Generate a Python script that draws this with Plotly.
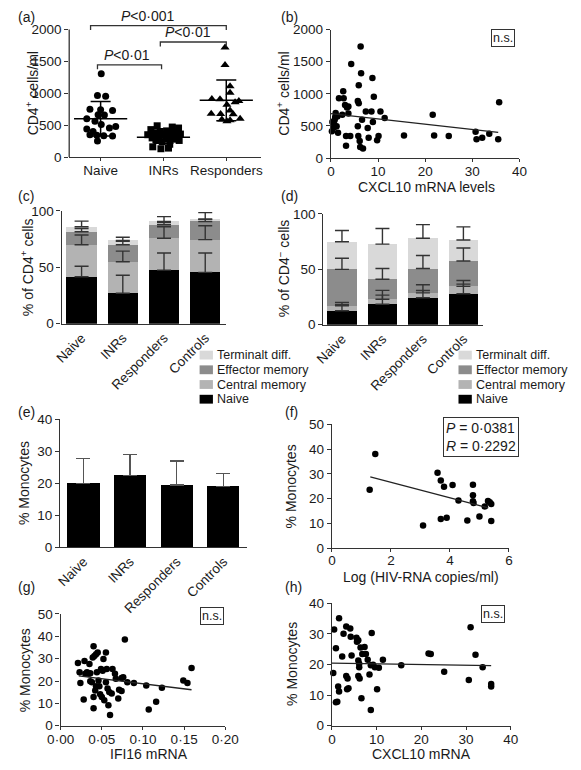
import plotly.graph_objects as go

W, H = 581, 770
FONT = "Liberation Sans, Arial, Helvetica, sans-serif"
TXT = "#1a1a1a"
AXC = "#333333"

# ---------------- data ----------------
# (a) CD4+ counts
cat_a = ["Naive", "INRs", "Responders"]
a_naive = [1305, 965, 955, 750, 740, 730, 665, 660, 600, 560, 510, 480, 455, 440, 400, 350, 340, 335, 330, 250]
a_naive_jit = [0.01, -0.05, 0.08, -0.17, 0.0, 0.19, -0.04, 0.06, -0.22, -0.09, 0.01, 0.24, 0.14, -0.22, -0.12, -0.17, -0.06, 0.05, 0.19, -0.05]
a_inr = [490, 470, 455, 430, 410, 400, 390, 380, 370, 360, 350, 340, 330, 320, 310, 300, 290, 280, 270, 260, 240, 200, 160, 140, 130]
a_inr_jit = [-0.1, 0.14, 0.24, -0.2, 0.05, -0.05, 0.18, -0.15, 0.08, 0.27, -0.25, 0.0, 0.12, -0.08, 0.2, -0.18, 0.06, 0.15, -0.12, 0.25, -0.02, 0.1, -0.17, 0.08, -0.04]
a_resp = [1720, 1445, 1110, 1010, 910, 905, 880, 860, 820, 730, 680, 675, 670, 600, 590, 575, 560]
a_resp_jit = [-0.02, -0.02, 0.06, 0.06, -0.23, -0.1, 0.2, 0.14, 0.01, 0.06, -0.24, -0.09, 0.11, 0.22, -0.07, 0.06, 0.01]
a_mean = [600, 310, 890]
a_sd = [272, 95, 320]
a_brk_x0 = [-0.05, -0.16, 0.95]
a_brk_x1 = [0.97, 2.0, 2.0]
a_brk_y = [1446, 2062, 1805]
a_brk_leg = 70
a_brk_tx = [0.42, 0.75, 1.39]
a_brk_text = ["<i>P</i>&lt;0·01", "<i>P</i>&lt;0·001", "<i>P</i>&lt;0·01"]

# (b) CD4+ vs CXCL10
b_x = [0.2, 0.7, 0.8, 1.0, 1.2, 1.35, 1.5, 1.7, 2.4, 2.6, 2.7, 3.0, 3.2, 3.2, 3.4, 3.7, 3.7, 4.1, 4.3, 5.7,
       5.7, 5.9, 5.9, 5.8, 6.1, 6.2, 6.3, 6.4, 6.6, 6.8, 7.4, 7.8, 8.0, 8.6, 8.8, 8.9, 9.1, 9.8, 10.1, 10.5,
       11.4, 15.5, 21.6, 21.9, 25.0, 30.7, 30.9, 32.1, 33.6, 35.7, 35.5, 0.3, 0.6, 0.9]
b_y = [418, 520, 597, 699, 495, 648, 393, 929, 673, 1041, 929, 827, 342, 189, 786, 801, 694, 342, 1464, 495,
       888, 852, 1133, 342, 265, 173, 1735, 1321, 597, 148, 724, 469, 316, 724, 1245, 561, 954, 276, 342, 724,
       622, 352, 673, 352, 342, 408, 291, 316, 378, 867, 291, 560, 470, 640]
b_fit_x = [0, 35.5]
b_fit_y = [690, 400]

# (c)/(d) subsets
cat_bar = ["Naive", "INRs", "Responders", "Controls"]
subset_names = ["Naive", "Central memory", "Effector memory", "Terminalt diff."]
subset_colors = ["#000000", "#b3b3b3", "#8c8c8c", "#d9d9d9"]
c_naive = [41.7, 27.0, 47.5, 45.5]
c_central = [28.3, 28.0, 28.3, 29.1]
c_effector = [11.6, 15.0, 12.0, 16.1]
c_terminal = [4.4, 3.8, 2.9, 2.0]
c_naive_err = [9.3, 16.0, 15.2, 17.2]
c_central_err = [8.7, 9.4, 10.2, 12.3]
c_effector_err = [2.9, 3.0, 2.0, 2.0]
c_terminal_err = [5.0, 2.9, 4.3, 5.8]
d_naive = [12.6, 18.5, 24.3, 27.9]
d_central = [4.4, 4.4, 4.4, 6.7]
d_effector = [32.9, 18.1, 22.0, 22.9]
d_terminal = [24.9, 31.7, 27.3, 19.0]
d_naive_err = [7.4, 8.2, 6.5, 12.0]
d_central_err = [1.0, 8.1, 7.3, 2.0]
d_effector_err = [10.1, 9.7, 11.8, 11.7]
d_terminal_err = [10.2, 14.1, 12.3, 11.8]

# (e) monocytes
e_mean = [20.0, 22.5, 19.5, 19.0]
e_sd = [7.8, 6.5, 7.5, 4.0]

# (f) monocytes vs log HIV RNA
f_x = [1.47, 1.28, 3.09, 3.58, 3.69, 3.8, 3.69, 3.89, 4.09, 4.29, 4.59, 4.78, 4.78, 4.78, 4.8, 5.0, 5.18, 5.29, 5.4, 5.35, 5.4]
f_y = [38, 23.6, 9.2, 30.4, 27.3, 24.8, 11.8, 12.3, 25.5, 19.2, 11.2, 25.6, 21.4, 18.9, 18.2, 12.8, 16.8, 19.0, 17.8, 18.5, 11.0]
f_fit_x = [1.3, 5.3]
f_fit_y = [28.8, 16.3]

# (g) monocytes vs IFI16
g_x = [0.021, 0.023, 0.024, 0.028, 0.029, 0.030, 0.032, 0.035, 0.034, 0.036, 0.036, 0.038, 0.039, 0.040, 0.040,
       0.040, 0.041, 0.042, 0.043, 0.043, 0.044, 0.045, 0.046, 0.047, 0.048, 0.049, 0.050, 0.051, 0.052, 0.053,
       0.055, 0.055, 0.056, 0.057, 0.058, 0.059, 0.060, 0.062, 0.063, 0.066, 0.067, 0.070, 0.071, 0.074, 0.074,
       0.076, 0.078, 0.081, 0.089, 0.104, 0.107, 0.116, 0.123, 0.149, 0.154, 0.159]
g_y = [28, 23.9, 19.1, 11.7, 29, 23.2, 23.9, 27.6, 23.2, 19.9, 23.5, 19.5, 30.5, 35.6, 7.8,
       12.9, 31.2, 15.8, 32, 17.6, 23.9, 32.7, 20.2, 17.6, 14.1, 25.4, 12.9, 24.6, 29.8, 11.4,
       19.5, 32.7, 25.4, 16.6, 9.2, 15.1, 4.8, 14.4, 25.4, 23.2, 21, 12.2, 16.1, 21.4, 15.5,
       21.7, 38.6, 19.5, 19.1, 18, 7.3, 10.7, 17, 20.2, 19.1, 25.8]
g_fit_x = [0.022, 0.159]
g_fit_y = [22.3, 16.1]
g_tickvals = [0, 0.05, 0.10, 0.15, 0.20]
g_ticktext = ["0·00", "0·05", "0·10", "0·15", "0·20"]

# (h) monocytes vs CXCL10
h_x = [0.3, 0.5, 0.9, 0.9, 1.2, 1.4, 1.6, 1.6, 2.3, 2.6, 3.2, 3.2, 3.4, 3.5, 3.7, 4.1, 4.2, 4.4, 5.5, 5.6,
       5.9, 5.9, 5.9, 6.1, 6.1, 6.2, 6.4, 6.6, 6.8, 7.3, 7.6, 8.0, 8.4, 8.7, 8.7, 8.9, 9.2, 9.6, 10.1, 10.5,
       11.4, 15.5, 21.6, 22.1, 25.1, 30.6, 31.0, 32.1, 33.7, 35.6, 35.6]
h_y = [17.2, 31.4, 25.3, 7.7, 7.8, 12.8, 11.2, 35.1, 22.6, 30, 32.4, 16.2, 11.9, 15.4, 12.2, 31.7, 29, 22.9, 28.7, 27.4,
       27.9, 21.3, 16.2, 20.2, 19.1, 15.4, 25.5, 9, 23.4, 25.7, 23.4, 21.5, 16.7, 19.7, 5.1, 30.3, 19.9, 19.1, 11.9, 18.9,
       21.5, 19.7, 23.6, 23.4, 17.6, 14.9, 32.1, 23.2, 19.1, 13.6, 12.8]
h_fit_x = [0, 35.6]
h_fit_y = [20.4, 19.6]

# ---------------- layout helpers ----------------
def xn(n):
    return "x" if n == 1 else f"x{n}"

def yn(n):
    return "y" if n == 1 else f"y{n}"

def axkey(letter, n):
    return f"{letter}axis" if n == 1 else f"{letter}axis{n}"

base_axis = dict(showline=True, linecolor=AXC, linewidth=1.3, ticks="outside", ticklen=4,
                 tickwidth=1.3, tickcolor=AXC, showgrid=False, zeroline=False,
                 tickfont=dict(family=FONT, size=13.5, color=TXT), fixedrange=True)

layout_axes = {}

def make_axes(n, xpx, ypx, xr, yr, xextra=None, yextra=None):
    xa = dict(base_axis, domain=[xpx[0] / W, xpx[1] / W], range=xr, anchor=yn(n))
    ya = dict(base_axis, domain=[1 - ypx[0] / H, 1 - ypx[1] / H], range=yr, anchor=xn(n))
    if xextra:
        xa.update(xextra)
    if yextra:
        ya.update(yextra)
    layout_axes[axkey("x", n)] = xa
    layout_axes[axkey("y", n)] = ya

bar_x = dict(tickvals=[0, 1, 2, 3], ticktext=cat_bar, tickangle=-45, ticks="")
num_x = dict(ticklabelstandoff=-2, ticklen=3)

make_axes(1, (58, 260), (153, 3.5), [-0.5, 2.56], [0, 2300],
          dict(num_x, tickvals=[0, 1, 2], ticktext=cat_a),
          dict(tickvals=[0, 500, 1000, 1500, 2000], showline=False))
make_axes(2, (333, 531), (154, 23), [0, 40], [0, 2000],
          dict(num_x, tickvals=[0, 10, 20, 30, 40]), dict(tickvals=[0, 500, 1000, 1500, 2000]))
make_axes(3, (50, 223), (323, 208), [-0.485, 3.51], [0, 100], bar_x, dict(tickvals=[0, 50, 100]))
make_axes(4, (325, 493), (324, 211), [-0.46, 3.49], [0, 100], bar_x, dict(tickvals=[0, 50, 100]))
make_axes(5, (48.5, 245), (551, 420.5), [-0.5, 3.51], [0, 40], bar_x, dict(tickvals=[0, 10, 20, 30, 40]))
make_axes(6, (334, 520), (552, 425.5), [0, 6], [0, 50],
          dict(num_x, tickvals=[0, 2, 4, 6], ticklabelstandoff=-4), dict(tickvals=[0, 10, 20, 30, 40, 50]))
make_axes(7, (49, 222), (733, 619), [0, 0.2], [0, 50],
          dict(num_x, tickvals=g_tickvals, ticktext=g_ticktext), dict(tickvals=[0, 10, 20, 30, 40, 50]))
make_axes(8, (334, 522), (733, 608), [0, 40], [0, 40],
          dict(num_x, tickvals=[0, 10, 20, 30, 40]), dict(tickvals=[0, 10, 20, 30, 40]))

fig = go.Figure()

def dots(n, x, y, size=6.5, symbol="circle"):
    fig.add_trace(go.Scatter(x=x, y=y, mode="markers", xaxis=xn(n), yaxis=yn(n), cliponaxis=False,
                             marker=dict(color="black", size=size, symbol=symbol), showlegend=False,
                             hoverinfo="skip"))

def fitline(n, x, y):
    fig.add_trace(go.Scatter(x=x, y=y, mode="lines", xaxis=xn(n), yaxis=yn(n),
                             line=dict(color="#222", width=1.3), showlegend=False, hoverinfo="skip"))

# (a)
dots(1, [0 + j for j in a_naive_jit], a_naive, 7, "circle")
dots(1, [1 + j for j in a_inr_jit], a_inr, 7, "square")
dots(1, [2 + j for j in a_resp_jit], a_resp, 8, "triangle-up")
fig.add_trace(go.Scatter(x=[0, 1, 2], y=a_mean, mode="markers", xaxis="x", yaxis="y",
                         marker=dict(symbol="line-ew", size=38, line=dict(color="black", width=1.6)),
                         error_y=dict(type="data", array=a_sd, color="black", thickness=1.5, width=10),
                         showlegend=False, hoverinfo="skip"))
for x0, x1, yl in zip(a_brk_x0, a_brk_x1, a_brk_y):
    fig.add_trace(go.Scatter(x=[x0, x0, x1, x1], y=[yl - a_brk_leg, yl, yl, yl - a_brk_leg], mode="lines",
                             xaxis="x", yaxis="y", line=dict(color="#333", width=1.3),
                             showlegend=False, hoverinfo="skip"))

# (b)
dots(2, b_x, b_y, 6.5)
fitline(2, b_fit_x, b_fit_y)

# (c), (d) stacked bars, error bars drawn on top at each segment's upper edge
def stacked(n, segs, errs, width):
    for seg, col in zip(segs, subset_colors):
        fig.add_trace(go.Bar(x=[0, 1, 2, 3], y=seg, width=width, xaxis=xn(n), yaxis=yn(n),
                             marker=dict(color=col, line=dict(width=0)),
                             showlegend=False, hoverinfo="skip"))
    running = [0, 0, 0, 0]
    for seg, err in zip(segs, errs):
        running = [r + s for r, s in zip(running, seg)]
        fig.add_trace(go.Scatter(x=[0, 1, 2, 3], y=running, mode="markers", xaxis=xn(n), yaxis=yn(n),
                                 marker=dict(size=1, opacity=0),
                                 error_y=dict(type="data", symmetric=False, array=err, arrayminus=[0] * 4,
                                              color="#333", thickness=1.4, width=7),
                                 showlegend=False, hoverinfo="skip"))

stacked(3, [c_naive, c_central, c_effector, c_terminal],
        [c_naive_err, c_central_err, c_effector_err, c_terminal_err], 0.74)
stacked(4, [d_naive, d_central, d_effector, d_terminal],
        [d_naive_err, d_central_err, d_effector_err, d_terminal_err], 0.73)

# (e)
fig.add_trace(go.Bar(x=[0, 1, 2, 3], y=e_mean, width=0.69, xaxis="x5", yaxis="y5",
                     marker=dict(color="black", line=dict(width=0)),
                     error_y=dict(type="data", symmetric=False, array=e_sd, arrayminus=[0] * 4,
                                  color="#555", thickness=1.4, width=7),
                     showlegend=False, hoverinfo="skip"))

# (f), (g), (h)
dots(6, f_x, f_y, 6.5)
fitline(6, f_fit_x, f_fit_y)
dots(7, g_x, g_y, 6.5)
fitline(7, g_fit_x, g_fit_y)
dots(8, h_x, h_y, 6.5)
fitline(8, h_fit_x, h_fit_y)

# ---------------- annotations ----------------
annotations = []
shapes = []

def ann(xp, yp, text, size=14, xanchor="center", yanchor="middle", angle=0, **kw):
    d = dict(x=xp / W, y=1 - yp / H, xref="paper", yref="paper", text=text, showarrow=False,
             xanchor=xanchor, yanchor=yanchor, textangle=angle,
             font=dict(family=FONT, size=size, color=TXT))
    d.update(kw)
    annotations.append(d)

# panel letters
for lab, xp, yp in [("(a)", 2, 10), ("(b)", 278, 10), ("(c)", 2, 193), ("(d)", 278, 193),
                    ("(e)", 2, 413), ("(f)", 283, 413), ("(g)", 2, 592), ("(h)", 283, 592)]:
    ann(xp, yp, lab, 14, xanchor="left")

# y titles
ann(19, 88, "CD4<sup>+</sup> cells/ml", 14, angle=-90)
ann(283, 88, "CD4<sup>+</sup> cells/ml", 14, angle=-90)
ann(14, 265, "% of CD4<sup>+</sup> cells", 14, angle=-90)
ann(283, 266, "% of CD4<sup>−</sup> cells", 14, angle=-90)
ann(10, 486, "% Monocytes", 14, angle=-90)
ann(292, 489, "% Monocytes", 14, angle=-90)
ann(11, 676, "% Monocytes", 14, angle=-90)
ann(292, 670, "% Monocytes", 14, angle=-90)

# x titles
ann(433, 184, "CXCL10 mRNA levels", 14)
ann(428, 581, "Log (HIV-RNA copies/ml)", 14)
ann(142, 762, "IFI16 mRNA", 14)
ann(428, 762, "CXCL10 mRNA", 14)

# bracket texts (a)
for tx, yl, t in zip(a_brk_tx, a_brk_y, a_brk_text):
    annotations.append(dict(x=tx, y=yl, xref="x", yref="y", text=t, showarrow=False,
                            xanchor="center", yanchor="bottom",
                            font=dict(family=FONT, size=14, color=TXT)))

# n.s. boxes
for xp, yp in [(513.5, 32), (208, 621), (503, 619.5)]:
    ann(xp, yp, "n.s.", 12.5, bordercolor="#333", borderwidth=1, borderpad=1)

# P / R box in (f)
ann(491, 439, "<i>P</i> = 0·0381<br><i>R</i> = 0·2292", 14, align="left",
    bordercolor="#333", borderwidth=1, borderpad=2)

# legends for (c) and (d)
legend_rows = [355, 370, 385, 400]
for sw_x in (195, 467):
    for row, name, col in zip(legend_rows, subset_names[::-1], subset_colors[::-1]):
        shapes.append(dict(type="rect", xref="paper", yref="paper",
                           x0=sw_x / W, x1=(sw_x + 14) / W,
                           y0=1 - (row + 4.5) / H, y1=1 - (row - 4.5) / H,
                           fillcolor=col, line=dict(width=0)))
        ann(sw_x + 16, row, name, 12.5, xanchor="left")

# y-axis line for (a) only up to 2000
shapes.append(dict(type="line", xref="x domain", yref="y", x0=0, x1=0, y0=0, y1=2000,
                   line=dict(color=AXC, width=1.3)))

fig.update_layout(
    width=W, height=H, autosize=False,
    margin=dict(l=0, r=0, t=0, b=0),
    paper_bgcolor="white", plot_bgcolor="white",
    barmode="stack", showlegend=False,
    annotations=annotations, shapes=shapes,
    font=dict(family=FONT, size=13, color=TXT),
    **layout_axes,
)

fig.write_html("out.html", config={"displayModeBar": False},
               post_script="document.body.style.margin='0px';document.body.style.padding='0px';")
